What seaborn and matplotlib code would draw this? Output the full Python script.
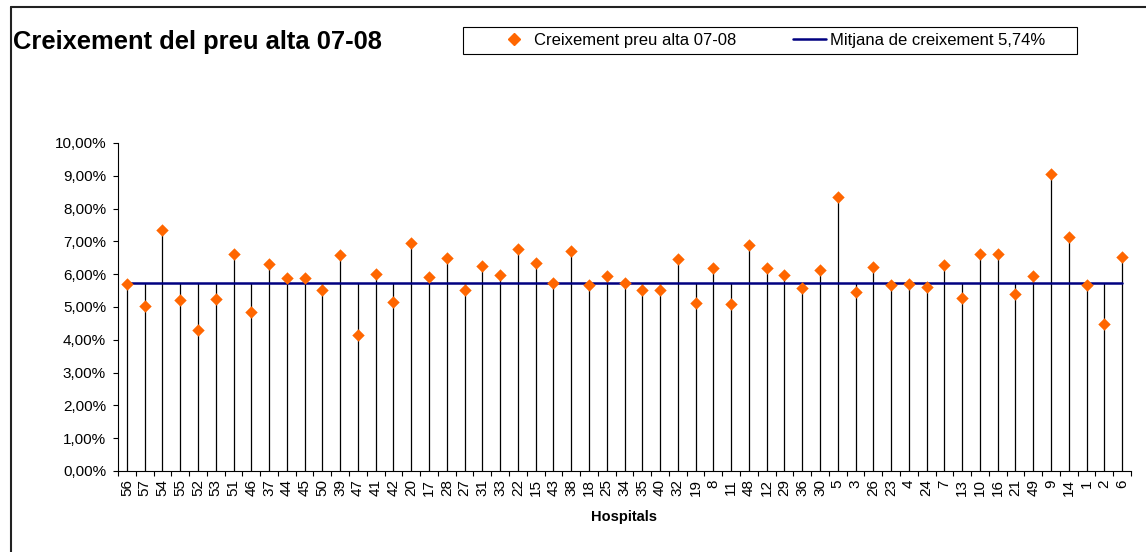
import matplotlib
matplotlib.use("Agg")
import matplotlib.pyplot as plt
from matplotlib.lines import Line2D
from matplotlib.patches import Rectangle
from matplotlib.ticker import FuncFormatter
import numpy as np
import seaborn as sns

# hospitals in the order shown on the x axis
hospitals = ["56", "57", "54", "55", "52", "53", "51", "46", "37", "44",
             "45", "50", "39", "47", "41", "42", "20", "17", "28", "27",
             "31", "33", "22", "15", "43", "38", "18", "25", "34", "35",
             "40", "32", "19", "8", "11", "48", "12", "29", "36", "30",
             "5", "3", "26", "23", "4", "24", "7", "13", "10", "16",
             "21", "49", "9", "14", "1", "2", "6"]

# price growth 07-08, in %
creixement = [5.71, 5.03, 7.34, 5.21, 4.30, 5.25, 6.63, 4.86, 6.30, 5.88,
              5.88, 5.53, 6.58, 4.16, 6.02, 5.15, 6.94, 5.92, 6.48, 5.53,
              6.24, 5.98, 6.78, 6.34, 5.74, 6.71, 5.68, 5.96, 5.74, 5.53,
              5.53, 6.45, 5.11, 6.18, 5.08, 6.90, 6.18, 5.98, 5.57, 6.14,
              8.36, 5.46, 6.22, 5.68, 5.71, 5.61, 6.28, 5.28, 6.63, 6.63,
              5.39, 5.93, 9.07, 7.12, 5.68, 4.47, 6.52]

mitjana = 5.74
y_ticks = np.arange(0, 10.01, 1)

sns.set_style("white")
plt.rcParams["font.family"] = ["Liberation Sans", "DejaVu Sans"]
plt.rcParams["text.color"] = "black"
plt.rcParams["axes.labelcolor"] = "black"
plt.rcParams["xtick.color"] = "black"
plt.rcParams["ytick.color"] = "black"

fig = plt.figure(figsize=(11.46, 5.52), dpi=100)
W, H = 1146, 552
ax = fig.add_axes([118 / W, 1 - 471 / H, (1131 - 118) / W, (471 - 143) / H])

n = len(hospitals)
tops = np.maximum(np.array(creixement), mitjana)

# drop lines from the axis up to the highest series at each hospital
ax.vlines(hospitals, 0, tops, colors="black", linewidth=0.9, zorder=1)

mean_line, = ax.plot(hospitals, np.full(n, mitjana), color="#000080",
                     linewidth=1.8, zorder=2)

sns.scatterplot(x=hospitals, y=creixement, marker="D", s=40,
                color="#FF6600", edgecolor="#FF6600", linewidth=0,
                zorder=3, ax=ax)

ax.set_xlim(-0.5, n - 0.5)
ax.set_ylim(0, 10)
ax.set_yticks(y_ticks)
ax.yaxis.set_major_formatter(
    FuncFormatter(lambda v, p: f"{v:.2f}%".replace(".", ",")))

ax.set_xticks(range(n))
ax.set_xticklabels(hospitals, rotation=90)
ax.set_xticks(np.arange(-0.5, n, 1), minor=True)
ax.tick_params(axis="x", which="major", length=0, pad=6, labelsize=11)
ax.tick_params(axis="x", which="minor", length=3.6, width=0.8,
               direction="out", color="black", bottom=True)
ax.tick_params(axis="y", length=3.6, width=0.8, direction="out",
               color="black", left=True, pad=5, labelsize=11)

for s in ["top", "right"]:
    ax.spines[s].set_visible(False)
for s in ["left", "bottom"]:
    ax.spines[s].set_color("black")
    ax.spines[s].set_linewidth(0.8)

ax.set_xlabel("Hospitals", fontsize=10.5, fontweight="bold", labelpad=10)
ax.set_ylabel("")

# legend
diamond = Line2D([], [], marker="D", linestyle="none", markersize=6.3,
                 markerfacecolor="#FF6600", markeredgecolor="#FF6600")
ax.legend([diamond, mean_line],
          ["Creixement preu alta 07-08", "Mitjana de creixement 5,74%"],
          loc="center left", bbox_to_anchor=(489 / W, 1 - 40.5 / H),
          bbox_transform=fig.transFigure, ncol=2, frameon=False,
          fontsize=12, borderpad=0, handlelength=2.0, handletextpad=0.2,
          columnspacing=3.4)
fig.add_artist(Rectangle((463 / W, 1 - 54 / H), (1077 - 463) / W, 27 / H,
                         transform=fig.transFigure, fill=False,
                         edgecolor="black", linewidth=0.8))

fig.text(13 / W, 1 - 42 / H, "Creixement del preu alta 07-08",
         fontsize=18.4, fontweight="bold", va="center", ha="left")

# outer chart frame (left and top edges visible)
fig.add_artist(Line2D([11 / W, 11 / W], [0, 1 - 7 / H], color="#222222",
                      linewidth=1.5, transform=fig.transFigure))
fig.add_artist(Line2D([11 / W, 1], [1 - 7 / H, 1 - 7 / H], color="#222222",
                      linewidth=1.5, transform=fig.transFigure))

fig.savefig("out.png", dpi=100)
